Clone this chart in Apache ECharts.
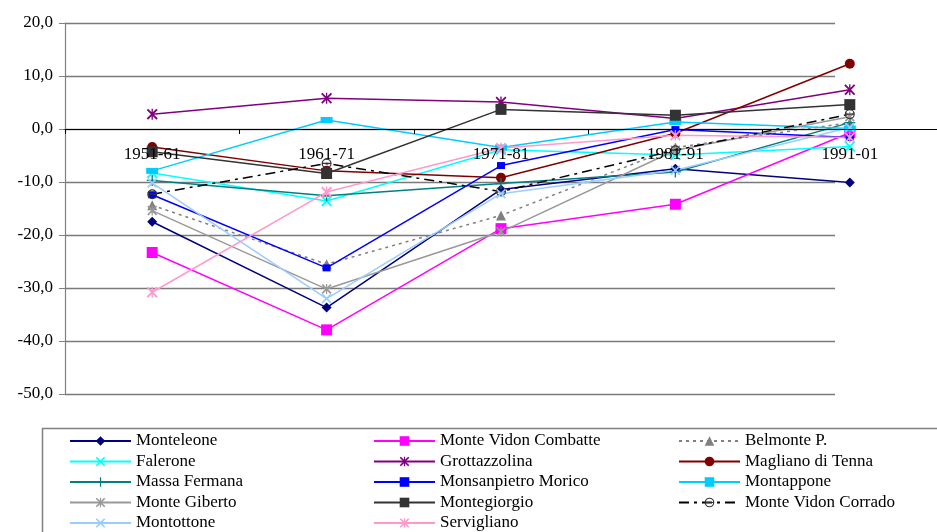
<!DOCTYPE html>
<html>
<head>
<meta charset="utf-8">
<script src="https://cdn.jsdelivr.net/npm/echarts@6/dist/echarts.min.js"></script>
<style>
html,body{margin:0;padding:0;background:#fff;}
#chart{width:937px;height:532px;}
</style>
</head>
<body>
<div id="chart"></div>
<script>
// ---- data ----
const categories = ['1951-61', '1961-71', '1971-81', '1981-91', '1991-01'];
const yTicks = [-50, -40, -30, -20, -10, 0, 10, 20];

const monteleone        = [-17.5, -33.7, -11.4, -7.5, -10.1];
const monteVidonCombatte= [-23.3, -37.9, -18.8, -14.2, -0.7];
const belmonte          = [-14.4, -25.5, -16.3, -3.5, 1.2];
const falerone          = [-8.3, -13.6, -3.9, -4.9, -3.3];
const grottazzolina     = [2.8, 5.8, 5.1, 2.0, 7.4];
const magliano          = [-3.4, -7.9, -9.2, -0.8, 12.3];
const massaFermana      = [-9.7, -12.6, -10.3, -8.1, 1.2];
const monsanpietro      = [-12.4, -26.2, -6.9, -0.1, -1.6];
const montappone        = [-7.9, 1.7, -3.5, 1.3, 0.1];
const monteGiberto      = [-15.4, -30.2, -19.4, -4.0, 2.3];
const montegiorgio      = [-4.3, -8.4, 3.7, 2.6, 4.6];
const monteVidonCorrado = [-12.3, -6.5, -11.8, -4.0, 2.8];
const montottone        = [-10.2, -32.0, -12.2, -7.8, 0.3];
const servigliano       = [-30.8, -11.9, -3.6, -1.2, -1.6];

const seriesNames = ['Monteleone','Monte Vidon Combatte','Belmonte P.','Falerone','Grottazzolina','Magliano di Tenna','Massa Fermana','Monsanpietro Morico','Montappone','Monte Giberto','Montegiorgio','Monte Vidon Corrado','Montottone','Servigliano'];
const seriesData = [monteleone, monteVidonCombatte, belmonte, falerone, grottazzolina, magliano, massaFermana, monsanpietro, montappone, monteGiberto, montegiorgio, monteVidonCorrado, montottone, servigliano];

// ---- layout ----
const GRID_TOP = 23, GRID_H = 371, Y_MIN = -50, Y_MAX = 20;
// distance from bottom of plot to the zero line (category axis sits on 0)
const ZERO_OFFSET = GRID_H * (0 - Y_MIN) / (Y_MAX - Y_MIN);

// ---- styles ----
const FONT = "'Liberation Serif', 'Times New Roman', serif";
const X_PATH = 'path://M0,1.2 L1.2,0 L5,3.8 L8.8,0 L10,1.2 L6.2,5 L10,8.8 L8.8,10 L5,6.2 L1.2,10 L0,8.8 L3.8,5 Z';
const PLUS_PATH = 'path://M4.4,0 H5.6 V4.4 H10 V5.6 H5.6 V10 H4.4 V5.6 H0 V4.4 H4.4 Z';
const STAR_PATH = 'path://M0,1.2 L1.2,0 L5,3.8 L8.8,0 L10,1.2 L6.2,5 L10,8.8 L8.8,10 L5,6.2 L1.2,10 L0,8.8 L3.8,5 Z M4.4,0 H5.6 V10 H4.4 Z';
const RING_PATH = 'path://M5,0 A5,5 0 1,1 4.99,0 Z M5,1.2 A3.8,3.8 0 1,0 5.01,1.2 Z M0.6,4.4 H9.4 V5.6 H0.6 Z';

const styles = [
  {color:'#000080', symbol:'diamond', size:10, type:'solid'},
  {color:'#FF00FF', symbol:'rect', size:11, type:'solid'},
  {color:'#808080', symbol:'triangle', size:10, type:[3,4]},
  {color:'#00FFFF', symbol:X_PATH, size:11, type:'solid'},
  {color:'#800080', symbol:STAR_PATH, size:11, type:'solid'},
  {color:'#800000', symbol:'circle', size:10, type:'solid'},
  {color:'#008080', symbol:PLUS_PATH, size:11, type:'solid'},
  {color:'#0000FF', symbol:'rect', size:[8,7], type:'solid'},
  {color:'#00CCFF', symbol:'rect', size:[12,6], type:'solid'},
  {color:'#999999', symbol:STAR_PATH, size:10, type:'solid'},
  {color:'#333333', symbol:'rect', size:11, type:'solid'},
  {color:'#000000', symbol:RING_PATH, size:10, type:[10,5,3,5], symColor:'#333333'},
  {color:'#99CCFF', symbol:X_PATH, size:10, type:'solid'},
  {color:'#FF99CC', symbol:STAR_PATH, size:11, type:'solid'}
];

const series = seriesNames.map((name, i) => ({
  name: name,
  type: 'line',
  xAxisIndex: 0,
  yAxisIndex: 0,
  data: seriesData[i],
  symbol: styles[i].symbol,
  symbolSize: styles[i].size,
  showAllSymbol: true,
  lineStyle: {color: styles[i].color, width: 1.5, type: styles[i].type},
  itemStyle: {color: styles[i].symColor || styles[i].color},
  emphasis: {disabled: true},
  animation: false
}));

const legendBase = {
  orient: 'vertical',
  itemWidth: 61,
  itemHeight: 12,
  itemGap: 2.5,
  padding: 0,
  top: 432,
  selectedMode: false,
  textStyle: {fontFamily: FONT, fontSize: 17, color: '#000', lineHeight: 18}
};

const option = {
  backgroundColor: '#fff',
  animation: false,
  grid: [
    {left: 65, top: GRID_TOP, width: 877.5, height: GRID_H, containLabel: false},
    {left: 65, top: GRID_TOP, width: 770, height: GRID_H, containLabel: false}
  ],
  xAxis: [
    {
      type: 'category', gridIndex: 0, data: categories, boundaryGap: true,
      position: 'bottom', offset: -ZERO_OFFSET, z: 5,
      axisLine: {onZero: false, lineStyle: {color: '#000', width: 1}},
      axisTick: {show: true, interval: 0, length: 5, lineStyle: {color: '#000'}},
      axisLabel: {interval: 0, margin: 17, fontFamily: FONT, fontSize: 17, color: '#000'},
      splitLine: {show: false}
    },
    {
      type: 'value', gridIndex: 1, min: 0, max: 1, show: false
    }
  ],
  yAxis: [
    {
      type: 'value', gridIndex: 0, min: Y_MIN, max: Y_MAX, interval: 10,
      axisLine: {show: false}, axisTick: {show: false}, axisLabel: {show: false},
      splitLine: {show: false}
    },
    {
      type: 'value', gridIndex: 1, min: Y_MIN, max: Y_MAX, interval: 10,
      axisLine: {show: true, onZero: false, lineStyle: {color: '#808080', width: 1.2}},
      axisTick: {show: true, length: 6, lineStyle: {color: '#808080'}},
      axisLabel: {
        margin: 12, fontFamily: FONT, fontSize: 17, color: '#000',
        formatter: v => (yTicks.indexOf(v) >= 0 ? v.toFixed(1).replace('.', ',') : '')
      },
      splitLine: {show: true, lineStyle: {color: '#7a7a7a', width: 1.3}}
    }
  ],
  legend: [
    Object.assign({}, legendBase, {left: 69, data: [seriesNames[0], seriesNames[3], seriesNames[6], seriesNames[9], seriesNames[12]]}),
    Object.assign({}, legendBase, {left: 373, data: [seriesNames[1], seriesNames[4], seriesNames[7], seriesNames[10], seriesNames[13]]}),
    Object.assign({}, legendBase, {left: 678, data: [seriesNames[2], seriesNames[5], seriesNames[8], seriesNames[11]]})
  ],
  graphic: [
    {type: 'rect', left: 40, top: 426, z: -1, silent: true,
     shape: {width: 920, height: 130},
     style: {fill: 'none', stroke: '#808080', lineWidth: 1.5}}
  ],
  series: series
};

const chart = echarts.init(document.getElementById('chart'), null, {renderer: 'canvas'});
chart.setOption(option);
</script>
</body>
</html>
